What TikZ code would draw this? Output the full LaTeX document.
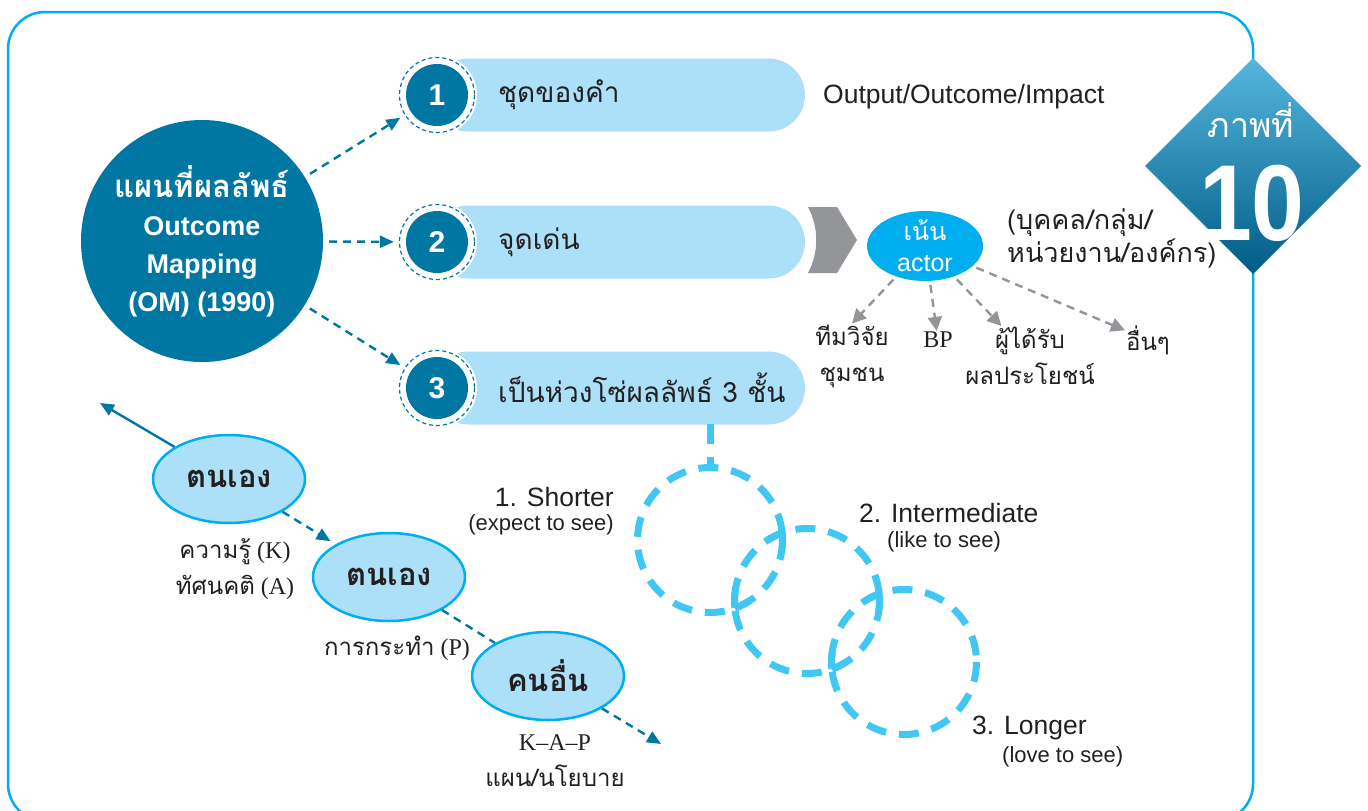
\documentclass[tikz,border=0pt]{standalone}
\usepackage{fontspec}
\setmainfont{Liberation Sans}
\newfontfamily\thai[Script=Thai]{Loma}
\newfontfamily\serif{Liberation Serif}
\usetikzlibrary{arrows.meta,shapes.geometric}

\definecolor{azul}{RGB}{0,119,163}
\definecolor{celeste}{RGB}{172,224,249}
\definecolor{cian}{RGB}{0,174,239}
\definecolor{anillo}{RGB}{66,199,244}
\definecolor{gris}{RGB}{147,149,152}
\definecolor{texto}{RGB}{35,31,32}
\definecolor{rombosup}{RGB}{86,183,222}
\definecolor{rombomed}{RGB}{0,140,190}
\definecolor{romboinf}{RGB}{0,92,134}

\tikzset{
  numero/.style={circle,fill=azul,text=white,minimum size=62,inner sep=0pt,font=\bfseries\fontsize{30}{30}\selectfont},
  flechaazul/.style={azul,line width=2.4pt,dash pattern=on 8pt off 6pt,-{Triangle[length=14pt,width=12pt]}},
  flechagris/.style={gris,line width=2.4pt,dash pattern=on 8pt off 6pt,-{Triangle[length=14pt,width=14pt]}},
  globo/.style={ellipse,draw=cian,line width=2.5pt,fill=celeste,minimum width=152,minimum height=88,inner sep=0pt,font=\thai\bfseries\fontsize{31}{31}\selectfont,text=texto},
  etiqueta/.style={text=texto,align=center,inner sep=1pt,font=\serif\fontsize{24}{36}\selectfont},
  leyenda/.style={text=texto,inner sep=0pt,font=\fontsize{26.5}{26.5}\selectfont},
  leyendachica/.style={text=texto,inner sep=0pt,font=\fontsize{22}{22}\selectfont},
  pildora/.style={anchor=west,text=texto,inner sep=0pt,font=\thai\fontsize{28}{28}\selectfont},
  anilloc/.style={anillo,line width=7pt,dash pattern=on 20pt off 13pt},
}

\begin{document}
\begin{tikzpicture}[x=1pt,y=-1pt]
\useasboundingbox (0,0) rectangle (1368,811);

    %Marco
    \draw[cian,line width=2.5pt,rounded corners=37pt] (8,12) rectangle (1253,821);

    %Pildoras
    \foreach \y in {95,242,388}{
        \fill[celeste,rounded corners=36.5pt] (432,\y-36.5) rectangle (805,\y+36.5);
        \fill[white] (437,\y) circle (40);
        \draw[azul,line width=1.2pt,dash pattern=on 4pt off 3pt] (437,\y) circle (37.5);
    }
    \node[numero] (n1) at (437,95) {1};
    \node[numero] (n2) at (437,242) {2};
    \node[numero] (n3) at (437,388) {3};
    \node[pildora] (p1) at (498,95) {ชุดของคำ};
    \node[pildora] (p2) at (498,242) {จุดเด่น};
    \node[pildora] (p3) at (498,388) {เป็นห่วงโซ่ผลลัพธ์ 3 ชั้น};

    %Circulo principal
    \node[circle,fill=azul,minimum size=242,inner sep=0pt] (om) at (202,241) {};
    \node[text=white,align=center,font=\bfseries\fontsize{27}{38}\selectfont] (omtexto) at (om) {{\thai\fontsize{31}{38}\selectfont แผนที่ผลลัพธ์}\\Outcome\\Mapping\\(OM) (1990)};
    \draw[flechaazul,shorten <=6pt,shorten >=12pt] (om) -- (n1);
    \draw[flechaazul,shorten <=6pt,shorten >=12pt] (om) -- (n2);
    \draw[flechaazul,shorten <=6pt,shorten >=12pt] (om) -- (n3);

    \node[leyenda,anchor=west] (salida) at (823,97) {Output/Outcome/Impact};

    %Actor
    \fill[gris] (808,207) -- (837,207) -- (857,240) -- (837,273) -- (808,273) .. controls (819,252) and (819,228) .. (808,207) -- cycle;
    \node[ellipse,fill=cian,minimum width=116,minimum height=70,inner sep=0pt] (actor) at (925,246) {};
    \node[text=white,align=center,font=\fontsize{25}{31}\selectfont] (actortexto) at (actor) {{\thai เน้น}\\actor};
    \node[anchor=north west,align=left,text=texto,inner sep=0pt,font=\thai\fontsize{27}{33}\selectfont] (grupos) at (1007,208) {(บุคคล/กลุ่ม/\\หน่วยงาน/องค์กร)};

    \node[etiqueta] (t1) at (852,356) {{\thai ทีมวิจัย}\\{\thai ชุมชน}};
    \node[etiqueta] (bp) at (938,340) {BP};
    \node[etiqueta] (t3) at (1030,356) {{\thai ผู้ได้รับ}\\{\thai ผลประโยชน์}};
    \node[etiqueta] (t4) at (1148,340) {{\thai อื่นๆ}};
    \draw[flechagris,shorten <=4pt] (actor) -- (t1.north);
    \draw[flechagris,shorten <=4pt] (actor) -- (bp);
    \draw[flechagris,shorten <=4pt] (actor) -- (t3);
    \draw[flechagris,shorten <=4pt] (actor) -- (t4);

    %Rombo
    \shade[top color=rombosup,middle color=rombomed,bottom color=romboinf] (1253,58) -- (1361,166) -- (1253,274) -- (1145,166) -- cycle;
    \node[text=white,anchor=base,inner sep=0pt,font=\thai\fontsize{34}{34}\selectfont] (ptitulo) at (1251,137) {ภาพที่};
    \node[text=white,anchor=base,inner sep=0pt,font=\bfseries\fontsize{108}{108}\selectfont] (pnum) at (1252,240) {\scalebox{0.88}[1]{10}};

    %Anillos
    \coordinate (a1) at (710,540);
    \coordinate (a2) at (807,601);
    \coordinate (a3) at (904,662);
    \draw[anilloc] (710,424) -- (710,467.5);
    \foreach \c in {a1,a2,a3}{
        \draw[anilloc] (\c) circle (72.5);
    }
    \foreach \c/\d in {a1/a2,a2/a3}{
        \draw[anillo,line width=7pt] ([shift={(-5.6:72.5)}]\c) arc[start angle=-5.6,end angle=7,radius=72.5];
        \draw[anillo,line width=7pt] ([shift={(249.9:72.5)}]\d) arc[start angle=249.9,end angle=237,radius=72.5];
        \draw[anillo,line width=7pt] ([shift={(69.9:72.5)}]\c) arc[start angle=69.9,end angle=57,radius=72.5];
        \draw[anillo,line width=7pt] ([shift={(174.4:72.5)}]\d) arc[start angle=174.4,end angle=187,radius=72.5];
    }
    \node[leyenda,anchor=east] (r1a) at (614,497) {1. Shorter};
    \node[leyendachica,anchor=east] (r1b) at (614,525) {(expect to see)};
    \node[leyenda,anchor=west] (r2a) at (859,513) {2. Intermediate};
    \node[leyendachica,anchor=west] (r2b) at (887,542) {(like to see)};
    \node[leyenda,anchor=west] (r3a) at (972,728) {3. Longer};
    \node[leyendachica,anchor=west] (r3b) at (1002,757) {(love to see)};

    %Globos
    \coordinate (fin0) at (100,403);
    \coordinate (fin3) at (661,744);
    \node[globo] (e1) at (229,479) {ตนเอง};
    \node[globo] (e2) at (389,577) {ตนเอง};
    \node[globo] (e3) at (548,676) {คนอื่น};
    \draw[azul,line width=2.4pt,-{Triangle[length=14pt,width=12pt]}] (e1) -- (fin0);
    \draw[flechaazul,shorten >=6pt] (e1) -- (e2);
    \draw[azul,line width=2.4pt,dash pattern=on 8pt off 6pt] (e2) -- (e3);
    \draw[flechaazul] (e3) -- (fin3);
    \node[etiqueta] (k1) at (235,569) {{\thai ความรู้} (K)\\{\thai ทัศนคติ} (A)};
    \node[etiqueta] (k2) at (397,648) {{\thai การกระทำ} (P)};
    \node[etiqueta] (k3) at (555,761) {K–A–P\\{\thai แผน/นโยบาย}};
\end{tikzpicture}
\end{document}
